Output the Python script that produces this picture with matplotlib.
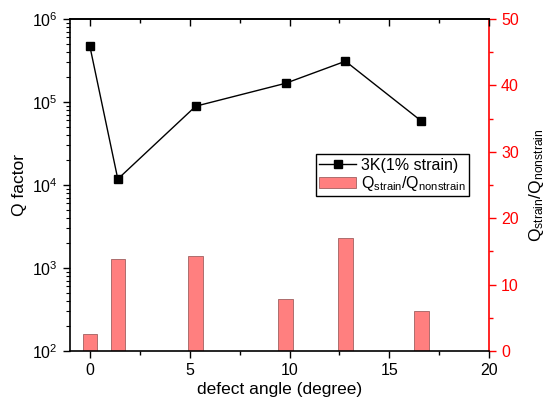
import numpy as np
import matplotlib
matplotlib.use('Agg')
import matplotlib.pyplot as plt
from matplotlib.ticker import MultipleLocator, LogLocator
from matplotlib.lines import Line2D
from matplotlib.patches import Patch

plt.rcParams['font.family'] = ['Liberation Sans', 'DejaVu Sans']
plt.rcParams['mathtext.default'] = 'regular'

# data
angle = [0, 1.4, 5.3, 9.8, 12.8, 16.6]
q_factor = [4.7e5, 1.18e4, 8.9e4, 1.68e5, 3.1e5, 5.9e4]
q_ratio = [2.5, 13.8, 14.3, 7.8, 17.0, 6.0]

bar_face = '#ff7f7f'
bar_edge = '#a06060'

fig = plt.figure(figsize=(5.46, 4.04), dpi=100)
ax = fig.add_axes([0.128, 0.131, 0.768, 0.822])
ax2 = ax.twinx()

# bars on the right axis
ax2.bar(angle, q_ratio, width=0.72, color=bar_face, edgecolor=bar_edge,
        linewidth=0.6, zorder=1)
ax2.set_ylim(0, 50)
ax2.yaxis.set_major_locator(MultipleLocator(10))
ax2.yaxis.set_minor_locator(MultipleLocator(5))
ax2.tick_params(axis='y', colors='red', labelsize=11.5, length=5, width=1)
ax2.tick_params(axis='y', which='minor', colors='red', length=3, width=1)
ax2.spines['right'].set_color('red')
ax2.spines['right'].set_linewidth(1.2)
for s in ['left', 'top', 'bottom']:
    ax2.spines[s].set_visible(False)
ax2.set_ylabel('$Q_{strain}/Q_{nonstrain}$', fontsize=12.5, labelpad=6)

# line on the left (log) axis, drawn above the bars
ax.set_zorder(ax2.get_zorder() + 1)
ax.patch.set_visible(False)
ax.plot(angle, q_factor, color='black', marker='s', markersize=6, linewidth=1)
ax.set_yscale('log')
ax.set_ylim(1e2, 1e6)
ax.set_xlim(-1, 20)
ax.xaxis.set_major_locator(MultipleLocator(5))
ax.xaxis.set_minor_locator(MultipleLocator(2.5))
ax.yaxis.set_minor_locator(LogLocator(base=10, subs=np.arange(2, 10), numticks=20))
ax.tick_params(axis='x', which='major', labelsize=11.5, length=5, width=1)
ax.tick_params(axis='x', which='minor', length=3, width=1)
ax.tick_params(axis='y', which='major', labelsize=11.5, length=5, width=1)
ax.tick_params(axis='y', which='minor', length=3, width=0.8)
ax.spines['right'].set_visible(False)
for s in ['left', 'top', 'bottom']:
    ax.spines[s].set_linewidth(1.2)
ax.set_xlabel('defect angle (degree)', fontsize=12.5, labelpad=3)
ax.set_ylabel('Q factor', fontsize=12.5, labelpad=4)

# top axis: ticks pointing inward, no labels
top = ax.secondary_xaxis('top')
top.xaxis.set_major_locator(MultipleLocator(5))
top.xaxis.set_minor_locator(MultipleLocator(2.5))
top.tick_params(which='both', direction='in', labeltop=False, width=1)
top.tick_params(which='major', length=5)
top.tick_params(which='minor', length=3)
top.spines['top'].set_linewidth(1.2)

handles = [Line2D([], [], color='black', marker='s', markersize=6, linewidth=1),
           Patch(facecolor=bar_face, edgecolor=bar_edge, linewidth=0.6)]
labels = ['3K(1% strain)', '$Q_{strain}/Q_{nonstrain}$']
leg = ax.legend(handles, labels, loc='upper left', bbox_to_anchor=(0.579, 0.618),
                bbox_transform=fig.transFigure, fontsize=11.5, fancybox=False,
                framealpha=1, edgecolor='black', borderaxespad=0, handlelength=2.3,
                borderpad=0.2, labelspacing=0.1, handletextpad=0.3)
leg.get_frame().set_linewidth(1)

fig.savefig('out.png', dpi=100)
